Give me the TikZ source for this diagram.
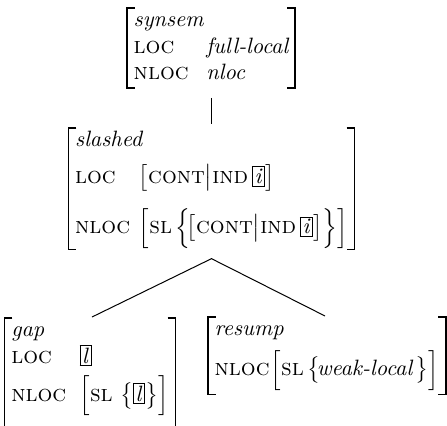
\documentclass[tikz,border=0pt]{standalone}
\usetikzlibrary{positioning}
\newcommand{\feat}[1]{\mbox{\fontsize{10.5}{12}\selectfont\scshape #1}}
\newcommand{\val}[1]{\textit{#1}}
\newcommand{\tagbox}[1]{{\setlength{\fboxsep}{0.8pt}\fbox{\textit{#1}}}}
\newcommand{\dpstrut}[1]{\rule[-#1]{0pt}{#1}}
\tikzset{avm/.style={inner xsep=3pt,inner ysep=0pt,outer sep=0pt,anchor=north},
         brack/.style={line width=0.6pt},
         branch/.style={line width=0.45pt}}

\begin{document}
\begin{tikzpicture}[x=0.45pt,y=-0.45pt]
 \useasboundingbox (0,0) rectangle (447,426);
 \node[avm] (syn) at (211,8) {$\begin{array}{@{}l@{\hspace{8pt}}l@{}}
   \multicolumn{2}{@{}l@{}}{\val{synsem}} \\
   \feat{loc} & \val{full-local} \\
   \feat{nloc} & \val{nloc}
 \end{array}$};
 \node[avm] (sla) at (211.5,128) {$\begin{array}{@{}l@{\hspace{4pt}}l@{}}
   \multicolumn{2}{@{}l@{}}{\val{slashed}} \\[4.5pt]
   \feat{loc} & \bigl[\feat{cont}\big|\feat{ind}\,\tagbox{i}\bigr] \\[7.5pt]
   \feat{nloc} & \Bigl[\feat{sl}\,\Bigl\{\!\bigl[\feat{cont}\big|\feat{ind}\,\tagbox{i}\bigr]\Bigr\}\Bigr]\dpstrut{7.2pt}
 \end{array}$};
 \node[avm] (gap) at (90,318) {$\begin{array}{@{}l@{\hspace{6pt}}l@{}}
   \multicolumn{2}{@{}l@{}}{\val{gap}} \\
   \feat{loc} & \tagbox{l} \\[2pt]
   \feat{nloc} & \Bigl[\feat{sl}\ \bigl\{\tagbox{l}\bigr\}\Bigr]\dpstrut{12pt}
 \end{array}$};
 \node[avm] (res) at (327,317) {$\begin{array}{@{}l@{\hspace{0.5pt}}l@{}}
   \multicolumn{2}{@{}l@{}}{\val{resump}} \\[3pt]
   \feat{nloc} & \Bigl[\feat{sl}\,\bigl\{\!\val{weak-local}\,\bigr\}\Bigr]\dpstrut{8.5pt}
 \end{array}$};
 \foreach \n in {syn,sla,gap,res}{
   \draw[brack] ([xshift=3.5pt]\n.north west) -| (\n.south west) -- ++(3.5pt,0);
   \draw[brack] ([xshift=-3.5pt]\n.north east) -| (\n.south east) -- ++(-3.5pt,0);
 }
 \coordinate (apex) at ([yshift=-4pt]sla.south);
 \draw[branch,shorten <=4.5pt,shorten >=2pt] (syn.south -| sla.north) -- (sla.north);
 \draw[branch,shorten <=1pt,shorten >=1pt] (gap.north) -- (apex) -- (res.north);
\end{tikzpicture}
\end{document}
